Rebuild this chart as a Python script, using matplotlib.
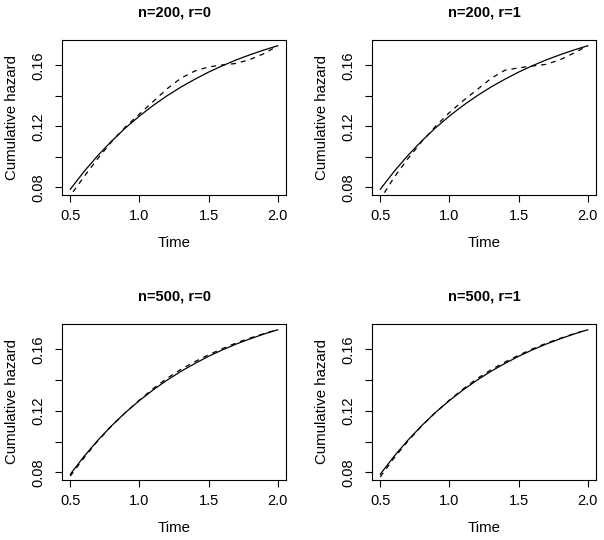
import numpy as np
import matplotlib
matplotlib.use('Agg')
import matplotlib.pyplot as plt

plt.rcParams['font.family'] = ['Liberation Sans', 'DejaVu Sans']

# истинная кумулятивная функция риска (сплошная линия)
t_true = [0.5, 0.6, 0.7, 0.8, 0.9, 1.0, 1.1, 1.2, 1.3, 1.4, 1.5, 1.6, 1.7, 1.8, 1.9, 2.0]
h_true = [0.0787, 0.0904, 0.1009, 0.1104, 0.1190, 0.1267, 0.1337, 0.1400,
          0.1457, 0.1508, 0.1555, 0.1597, 0.1635, 0.1669, 0.1700, 0.1728]

# оценки (пунктир)
t_200_0 = [0.52, 0.6, 0.7, 0.8, 0.9, 1.0, 1.1, 1.2, 1.3, 1.4, 1.5, 1.6, 1.7, 1.8, 1.9, 2.0]
h_200_0 = [0.0770, 0.0870, 0.0990, 0.1100, 0.1197, 0.1280, 0.1363, 0.1446,
           0.1515, 0.1562, 0.1589, 0.1602, 0.1612, 0.1638, 0.1676, 0.1727]

t_200_1 = [0.53, 0.6, 0.7, 0.8, 0.9, 1.0, 1.1, 1.2, 1.3, 1.4, 1.5, 1.6, 1.7, 1.8, 1.9, 2.0]
h_200_1 = [0.0765, 0.0865, 0.0988, 0.1100, 0.1200, 0.1290, 0.1368, 0.1440,
           0.1513, 0.1567, 0.1583, 0.1595, 0.1606, 0.1636, 0.1680, 0.1728]

t_500_0 = [0.5, 0.6, 0.7, 0.8, 0.9, 1.0, 1.1, 1.2, 1.3, 1.4, 1.5, 1.6, 1.7, 1.8, 1.9, 2.0]
h_500_0 = [0.0775, 0.0895, 0.1005, 0.1103, 0.1190, 0.1270, 0.1345, 0.1412,
           0.1470, 0.1520, 0.1565, 0.1605, 0.1642, 0.1674, 0.1703, 0.1730]

t_500_1 = [0.5, 0.6, 0.7, 0.8, 0.9, 1.0, 1.1, 1.2, 1.3, 1.4, 1.5, 1.6, 1.7, 1.8, 1.9, 2.0]
h_500_1 = [0.0770, 0.0893, 0.1003, 0.1102, 0.1190, 0.1270, 0.1343, 0.1410,
           0.1467, 0.1517, 0.1562, 0.1603, 0.1640, 0.1672, 0.1702, 0.1730]

titles = ['n=200, r=0', 'n=200, r=1', 'n=500, r=0', 'n=500, r=1']
x_ticks = [0.5, 1.0, 1.5, 2.0]
x_labels = ['0.5', '1.0', '1.5', '2.0']
y_ticks = [0.08, 0.10, 0.12, 0.14, 0.16]
y_labels = ['0.08', '', '0.12', '', '0.16']

W, H = 604, 540
fig = plt.figure(figsize=(W / 100, H / 100), dpi=100)

# рамки панелей в пикселях: (left, top, right, bottom)
boxes = [(62, 40, 286, 195), (372, 40, 596, 195),
         (62, 324, 286, 480), (372, 324, 596, 480)]
estimates = [(t_200_0, h_200_0), (t_200_1, h_200_1),
             (t_500_0, h_500_0), (t_500_1, h_500_1)]

# пределы как в R (4% расширение)
xr = max(t_true) - min(t_true)
yr = max(h_true) - min(h_true)
xlim = (min(t_true) - 0.04 * xr, max(t_true) + 0.04 * xr)
ylim = (min(h_true) - 0.04 * yr, max(h_true) + 0.04 * yr)

for (l, t, r, b), title, (th, hh) in zip(boxes, titles, estimates):
    ax = fig.add_axes([l / W, 1 - b / H, (r - l) / W, (b - t) / H])
    ax.plot(t_true, h_true, color='black', lw=0.9)
    ax.plot(th, hh, color='black', lw=0.9, dashes=(4, 4))
    ax.set_xlim(xlim)
    ax.set_ylim(ylim)
    ax.set_xticks(x_ticks)
    ax.set_xticklabels(x_labels)
    ax.set_yticks(y_ticks)
    ax.set_yticklabels(y_labels, rotation=90, va='center')
    ax.tick_params(length=5, width=0.8, labelsize=10.5)
    ax.tick_params(axis='x', pad=5)
    ax.tick_params(axis='y', pad=7)
    for s in ax.spines.values():
        s.set_linewidth(0.8)
    ax.set_title(title, fontweight='bold', fontsize=10.5, pad=17)
    ax.set_xlabel('Time', fontsize=10.8)
    ax.set_ylabel('Cumulative hazard', fontsize=10.8)
    # подписи осей: "Time" на 48 px ниже рамки, ylabel у x=12 px
    ax.xaxis.set_label_coords(0.5, -48 / (b - t))
    ax.xaxis.label.set_va('center')
    ax.yaxis.set_label_coords(-(l - (l - 62) - 12) / (r - l), 0.5)
    ax.yaxis.label.set_va('center')

fig.savefig('out.png', dpi=100)
